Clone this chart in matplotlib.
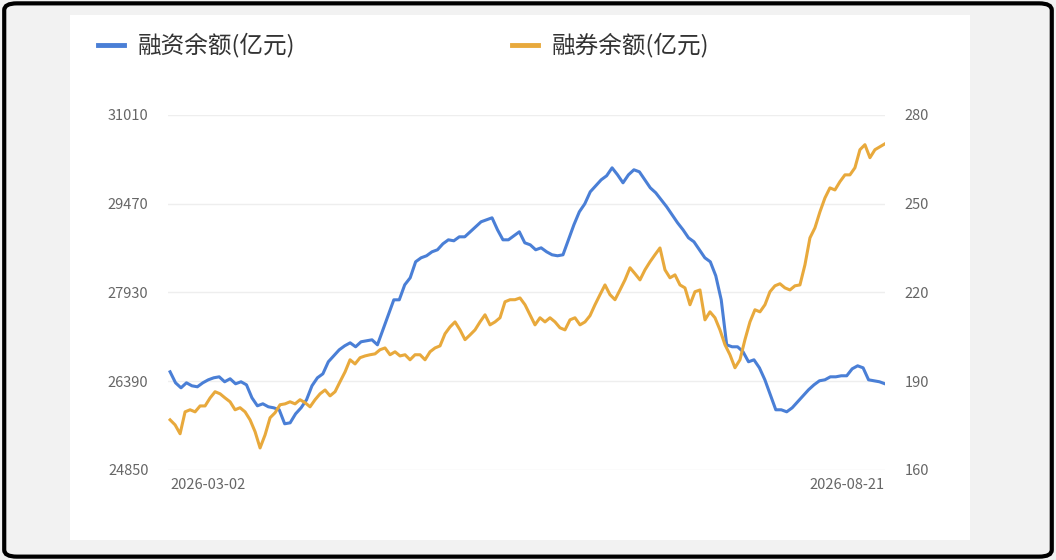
import matplotlib.pyplot as plt
import numpy as np
from matplotlib.patches import FancyBboxPatch, Rectangle

plt.rcParams["font.family"] = ["Noto Sans CJK SC", "DejaVu Sans"]

# Data
start_label = "2026-03-02"
end_label = "2026-08-21"

left_ticks = [24850, 26390, 27930, 29470, 31010]
right_ticks = [160, 190, 220, 250, 280]

financing = [
    26551, 26360, 26273, 26360, 26308, 26291, 26360, 26412, 26447, 26464,
    26378, 26430, 26343, 26378, 26325, 26100, 25961, 25996, 25944, 25926,
    25892, 25649, 25666, 25822, 25926, 26065, 26308, 26447, 26516, 26725,
    26829, 26933, 27002, 27054, 26985, 27072, 27089, 27106, 27019, 27280,
    27540, 27800, 27800, 28060, 28182, 28460, 28529, 28564, 28633, 28668,
    28772, 28841, 28824, 28893, 28893, 28980, 29067, 29154, 29188, 29223,
    29015, 28841, 28841, 28911, 28980, 28789, 28754, 28668, 28702, 28633,
    28581, 28564, 28581, 28841, 29101, 29327, 29466, 29674, 29778, 29882,
    29952, 30090, 29969, 29830, 29969, 30056, 30021, 29882, 29743, 29657,
    29535, 29414, 29275, 29136, 29015, 28876, 28807, 28668, 28529, 28460,
    28217, 27800, 27019, 26985, 26985, 26898, 26725, 26759, 26620, 26412,
    26152, 25892, 25892, 25857, 25926, 26031, 26135, 26239, 26325, 26395,
    26412, 26464, 26464, 26482, 26482, 26603, 26655, 26620, 26412, 26395,
    26378, 26343,
]

short_selling = [
    176.9, 175.2, 172.2, 179.6, 180.3, 179.6, 181.6, 181.6, 184.3, 186.4,
    185.7, 184.3, 183.0, 180.3, 181.0, 179.6, 176.9, 172.9, 167.4, 171.8,
    177.6, 179.3, 182.0, 182.3, 183.0, 182.3, 183.7, 182.7, 181.3, 183.7,
    185.7, 187.0, 185.0, 186.4, 189.8, 193.1, 197.2, 195.8, 197.9, 198.5,
    198.9, 199.2, 200.6, 201.2, 198.9, 199.9, 198.5, 198.9, 197.2, 198.9,
    198.9, 197.2, 199.9, 201.2, 201.9, 206.0, 208.3, 210.0, 207.3, 204.0,
    205.6, 207.3, 210.0, 212.4, 209.0, 210.0, 211.4, 216.8, 217.5, 217.5,
    218.1, 215.8, 212.4, 209.0, 211.4, 210.0, 211.4, 210.0, 208.0, 207.3,
    210.7, 211.4, 209.0, 210.0, 212.1, 215.8, 219.2, 222.5, 219.2, 217.5,
    220.8, 224.2, 228.3, 226.3, 224.2, 227.6, 230.3, 232.7, 235.0, 227.6,
    224.9, 225.9, 222.5, 221.5, 215.8, 220.2, 220.8, 210.7, 213.4, 211.4,
    207.3, 202.3, 198.9, 194.5, 197.2, 204.0, 210.0, 214.1, 213.4, 215.8,
    220.2, 222.2, 222.9, 221.5, 220.8, 222.2, 222.5, 229.3, 238.4, 241.8,
    247.2, 251.9, 255.3, 254.6, 257.4, 259.7, 259.7, 262.1, 268.2, 269.9,
    265.5, 268.2, 269.2, 270.2,
]

blue = "#4a7fd6"
orange = "#e8a93c"
tick_color = "#666666"

# Figure
fig = plt.figure(figsize=(10.56, 5.6), dpi=100)
fig.patch.set_facecolor("#f2f2f2")

# Outer frame and white panel (behind the axes)
fig.patches.append(FancyBboxPatch(
    (0.004, 0.006), 0.992, 0.988, boxstyle="round,pad=0,rounding_size=0.012",
    transform=fig.transFigure, facecolor="#f2f2f2", edgecolor="black",
    linewidth=3, zorder=-2
))
fig.patches.append(Rectangle(
    (70 / 1056, 1 - 540 / 560), 900 / 1056, 525 / 560,
    transform=fig.transFigure, facecolor="white", edgecolor="none", zorder=-1
))

ax = fig.add_axes([0.159, 0.161, 0.679, 0.634])
ax2 = ax.twinx()

x1 = np.arange(len(financing))
x2 = np.arange(len(short_selling)) * (len(financing) - 1) / (len(short_selling) - 1)

ax.plot(x1, financing, color=blue, linewidth=2.2, zorder=3)
ax2.plot(x2, short_selling, color=orange, linewidth=2.2, zorder=3)

ax.set_ylim(left_ticks[0], left_ticks[-1])
ax2.set_ylim(right_ticks[0], right_ticks[-1])
ax.set_yticks(left_ticks)
ax2.set_yticks(right_ticks)
ax.set_xlim(-0.4, len(financing) - 1)
ax.set_xticks([0, len(financing) - 1])
ax.set_xticklabels([start_label, end_label])

ax.grid(axis="y", color="#eeeeee", linewidth=1)
for a in (ax, ax2):
    a.set_facecolor("none")
    for s in a.spines.values():
        s.set_visible(False)
    a.tick_params(length=0, labelsize=10.5, colors=tick_color, pad=14)
ax.tick_params(axis="x", pad=6)
ax.get_xticklabels()[0].set_ha("left")
ax.get_xticklabels()[1].set_ha("right")

# Legend
fig.lines.append(plt.Line2D([98 / 1056, 124 / 1056], [1 - 45 / 560] * 2,
                            transform=fig.transFigure, color=blue, linewidth=3.5))
fig.text(138 / 1056, 1 - 45 / 560, "融资余额(亿元)", fontsize=17,
         color="#333333", va="center")
fig.lines.append(plt.Line2D([512 / 1056, 538 / 1056], [1 - 45 / 560] * 2,
                            transform=fig.transFigure, color=orange, linewidth=3.5))
fig.text(552 / 1056, 1 - 45 / 560, "融券余额(亿元)", fontsize=17,
         color="#333333", va="center")

plt.savefig("out.png", dpi=100, facecolor=fig.get_facecolor())
plt.close()
